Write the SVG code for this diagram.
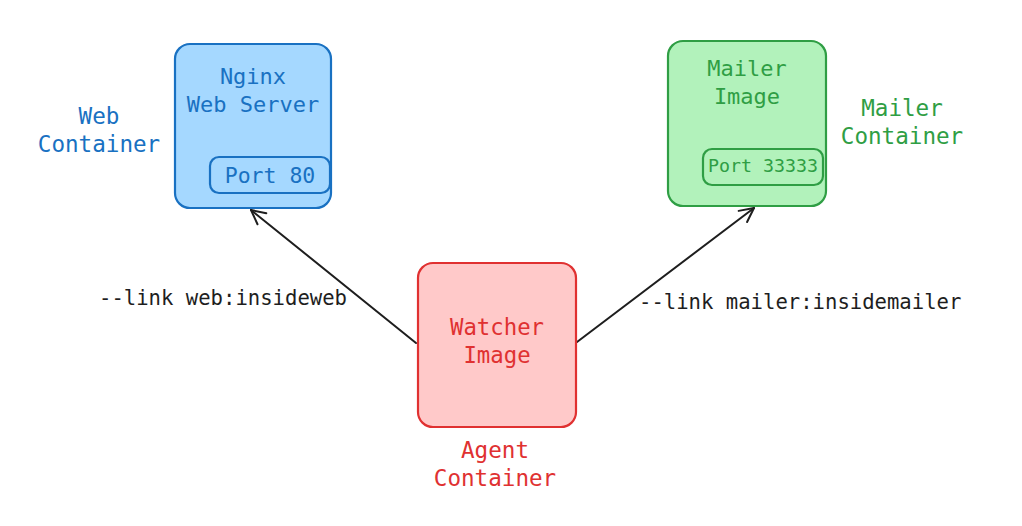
<svg xmlns="http://www.w3.org/2000/svg" width="1022" height="526" viewBox="0 0 1022 526">
<style>
text{font-family:"DejaVu Sans Mono","Liberation Mono",monospace;text-anchor:middle}
.t{font-size:22.6px}
.lbl{font-size:20.6px;fill:#1e1e1e;text-anchor:start}
.blue{fill:#1971c2}.green{fill:#2f9e44}.red{fill:#e03131}
.bb{fill:#a5d8ff;stroke:#1971c2;stroke-width:2.2}
.gb{fill:#b2f2bb;stroke:#2f9e44;stroke-width:2.2}
.rb{fill:#ffc9c9;stroke:#e03131;stroke-width:2.2}
.edge{fill:none;stroke:#1e1e1e;stroke-width:2;stroke-linecap:round}
</style>
<defs>
<marker id="arr" viewBox="0 0 20 20" refX="18" refY="10" markerWidth="20" markerHeight="20" markerUnits="userSpaceOnUse" orient="auto">
<path d="M4,3 L18,10 L4,17" fill="none" stroke="#1e1e1e" stroke-width="2" stroke-linecap="round" stroke-linejoin="round"/>
</marker>
</defs>
<rect width="1022" height="526" fill="#ffffff"/>
<g id="connectors">
<line class="edge" x1="416" y1="343" x2="251" y2="210" marker-end="url(#arr)"/>
<line class="edge" x1="577" y1="342" x2="754" y2="208" marker-end="url(#arr)"/>
<text class="lbl" x="99" y="305">--link web:insideweb</text>
<text class="lbl" x="639" y="309">--link mailer:insidemailer</text>
</g>
<g id="web">
<rect class="bb" x="175" y="44" width="156" height="164" rx="15"/>
<text class="t blue" x="253" y="84" style="font-size:22px">Nginx</text>
<text class="t blue" x="253" y="112" style="font-size:22px">Web Server</text>
<rect class="bb" x="210" y="157" width="120" height="36" rx="9"/>
<text class="t blue" x="270" y="183" style="font-size:21.5px">Port 80</text>
<text class="t blue" x="99" y="124">Web</text>
<text class="t blue" x="99" y="152">Container</text>
</g>
<g id="mailer">
<rect class="gb" x="668" y="41" width="158" height="165" rx="15"/>
<text class="t green" x="747" y="76" style="font-size:22px">Mailer</text>
<text class="t green" x="747" y="104" style="font-size:22px">Image</text>
<rect class="gb" x="703" y="149" width="120" height="36" rx="9"/>
<text class="t green" x="763" y="172" style="font-size:18.3px">Port 33333</text>
<text class="t green" x="902" y="116">Mailer</text>
<text class="t green" x="902" y="144">Container</text>
</g>
<g id="watcher">
<rect class="rb" x="418" y="263" width="158" height="164" rx="15"/>
<text class="t red" x="497" y="335" style="font-size:22.3px">Watcher</text>
<text class="t red" x="497" y="363" style="font-size:22.3px">Image</text>
<text class="t red" x="495" y="458">Agent</text>
<text class="t red" x="495" y="486">Container</text>
</g>
</svg>
